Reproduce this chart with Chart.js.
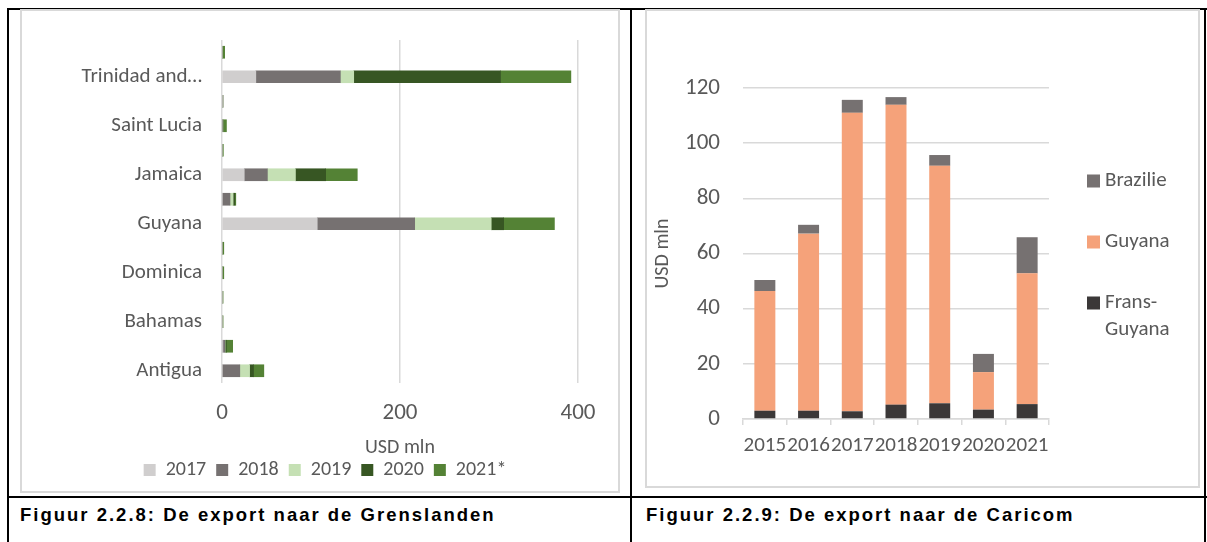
<!DOCTYPE html>
<html>
<head>
<meta charset="utf-8">
<script src="https://cdn.jsdelivr.net/npm/chart.js@4"></script>
<style>
  body { margin: 0; width: 1207px; height: 542px; position: relative; background: #fff; overflow: hidden; }
  .line { position: absolute; background: #000; }
  .box { position: absolute; border: 2px solid #d9d9d9; background: #fff; }
  .box canvas { display: block; }
  .cap { position: absolute; font-family: "Liberation Sans", Arial, sans-serif; font-weight: bold;
         font-size: 18.5px; letter-spacing: 2px; color: #000; white-space: nowrap; }
</style>
</head>
<body>
<div class="line" style="left:7px;top:8px;width:1200px;height:2px"></div>
<div class="line" style="left:7px;top:8px;width:2px;height:534px"></div>
<div class="line" style="left:630px;top:8px;width:2px;height:534px"></div>
<div class="line" style="left:1204px;top:8px;width:2px;height:534px"></div>
<div class="line" style="left:7px;top:496px;width:1200px;height:2px"></div>

<div class="box" style="left:20px;top:9px"><canvas id="grens" width="596" height="480"></canvas></div>
<div class="box" style="left:645px;top:9px"><canvas id="caricom" width="551" height="475"></canvas></div>

<div class="cap" style="left:20px;top:504px">Figuur 2.2.8: De export naar de Grenslanden</div>
<div class="cap" style="left:646px;top:504px">Figuur 2.2.9: De export naar de Caricom</div>

<script>
// linker grafiek: export per land (USD mln), van onder naar boven
const countries = ['Antigua', 'Barbados', 'Bahamas', 'Belize', 'Dominica', 'Grenada', 'Guyana', 'Haiti',
                   'Jamaica', 'Montserrat', 'Saint Lucia', 'Saint Vincent', 'Trinidad and Tobago', 'St. Kitts'];
const years = ['2017', '2018', '2019', '2020', '2021*'];
const v2017 = [0, 1, 0, 0, 0, 0, 107, 0, 25, 0, 0, 1, 38, 0];
const v2018 = [20, 2, 0, 0, 0, 0, 109.5, 9, 26, 0, 1, 0, 95, 0];
const v2019 = [11, 0.5, 1, 1, 0, 0, 86, 3.5, 31.5, 0, 0, 0, 15, 0];
const v2020 = [4.5, 1.5, 0, 0, 0, 0, 14, 2, 34, 0, 0, 0, 165, 0];
const v2021 = [11.5, 7, 0, 0, 2, 2, 57, 1, 35.5, 1.5, 4, 0, 79, 3];
const xTicks = [0, 200, 400];

// rechter grafiek
const caricomYears = ['2015', '2016', '2017', '2018', '2019', '2020', '2021'];
const fransGuyana = [3.0, 3.0, 2.8, 5.2, 5.7, 3.4, 5.4];
const guyana = [43.4, 64.2, 108.2, 108.7, 86.1, 13.6, 47.4];
const brazilie = [4.0, 3.2, 4.7, 2.8, 3.9, 6.6, 13.1];
const yTicks = [0, 20, 40, 60, 80, 100, 120];

const txt = '#595959';
const fam = 'Carlito, Lato, sans-serif';

const yearColors = ['#d0cece', '#767171', '#c5e0b4', '#375623', '#548235'];
const yearValues = [v2017, v2018, v2019, v2020, v2021];

new Chart(document.getElementById('grens'), {
    type: 'bar',
    data: {
        labels: countries,
        datasets: years.map((y, i) => ({
            label: y,
            data: yearValues[i],
            backgroundColor: yearColors[i],
            barThickness: 12
        }))
    },
    options: {
        indexAxis: 'y',
        responsive: false,
        animation: false,
        layout: { padding: { left: 50, right: 40, top: 29, bottom: 1 } },
        scales: {
            x: {
                stacked: true,
                min: xTicks[0],
                max: xTicks[xTicks.length - 1],
                afterBuildTicks: s => { s.ticks = xTicks.map(v => ({ value: v })); },
                ticks: { color: txt, font: { family: fam, size: 23 }, padding: 16 },
                grid: { color: '#d9d9d9', lineWidth: 1.5, drawTicks: false },
                border: { display: false },
                title: { display: true, text: 'USD mln', color: txt, font: { family: fam, size: 20 }, padding: { top: 0, bottom: -10 } },
                afterFit: s => { s.height = 67; }
            },
            y: {
                stacked: true,
                reverse: true,
                grid: { display: false },
                border: { display: false },
                ticks: {
                    autoSkip: false,
                    color: txt,
                    font: { family: fam, size: 21 },
                    padding: 12,
                    callback: function (val, i) {
                        if (i % 2) return '';
                        const l = this.getLabelForValue(val);
                        return l.length > 14 ? l.slice(0, 12) + '…' : l;
                    }
                },
                afterFit: s => { s.width = 150; }
            }
        },
        plugins: {
            legend: {
                position: 'bottom',
                labels: { boxWidth: 12, boxHeight: 12, padding: 10, color: txt, font: { family: fam, size: 20 } }
            },
            tooltip: { enabled: false }
        }
    }
});

// legenda rechts, met afbreking na het streepje
const sideLegend = {
    id: 'sideLegend',
    afterDraw(chart) {
        const ctx = chart.ctx;
        const rows = [[2, 170], [1, 231], [0, 292]];
        ctx.save();
        ctx.font = '21px ' + fam;
        ctx.textBaseline = 'middle';
        rows.forEach(([d, y]) => {
            const ds = chart.data.datasets[d];
            ctx.fillStyle = ds.backgroundColor;
            ctx.fillRect(440, y - 6.5, 13, 13);
            ctx.fillStyle = txt;
            ds.label.replace('-', '-\n').split('\n').forEach((line, k) => {
                ctx.fillText(line, 458, y + k * 27);
            });
        });
        ctx.restore();
    }
};

new Chart(document.getElementById('caricom'), {
    type: 'bar',
    data: {
        labels: caricomYears,
        datasets: [
            { label: 'Frans-Guyana', data: fransGuyana, backgroundColor: '#3b3838' },
            { label: 'Guyana', data: guyana, backgroundColor: '#f5a27a' },
            { label: 'Brazilie', data: brazilie, backgroundColor: '#767171' }
        ]
    },
    options: {
        responsive: false,
        animation: false,
        datasets: { bar: { categoryPercentage: 1, barPercentage: 0.48 } },
        layout: { padding: { left: 0, right: 149, top: 77, bottom: 17 } },
        scales: {
            x: {
                stacked: true,
                grid: { display: true, drawOnChartArea: false, tickLength: 6, color: '#d9d9d9', lineWidth: 1.5, offset: true },
                border: { color: '#d9d9d9', width: 1.5 },
                ticks: { color: txt, font: { family: fam, size: 21 }, padding: 8, maxRotation: 0, autoSkip: false },
                afterFit: s => { s.height = 50; }
            },
            y: {
                stacked: true,
                min: yTicks[0],
                max: yTicks[yTicks.length - 1],
                afterBuildTicks: s => { s.ticks = yTicks.map(v => ({ value: v })); },
                ticks: { color: txt, font: { family: fam, size: 23 }, padding: 23 },
                grid: { color: '#d9d9d9', lineWidth: 1.5, drawTicks: false },
                border: { display: false },
                title: { display: true, text: 'USD mln', color: txt, font: { family: fam, size: 20 }, padding: { top: 4, bottom: 0 } },
                afterFit: s => { s.width = 96; }
            }
        },
        plugins: { legend: { display: false }, tooltip: { enabled: false } }
    },
    plugins: [sideLegend]
});
</script>
</body>
</html>
